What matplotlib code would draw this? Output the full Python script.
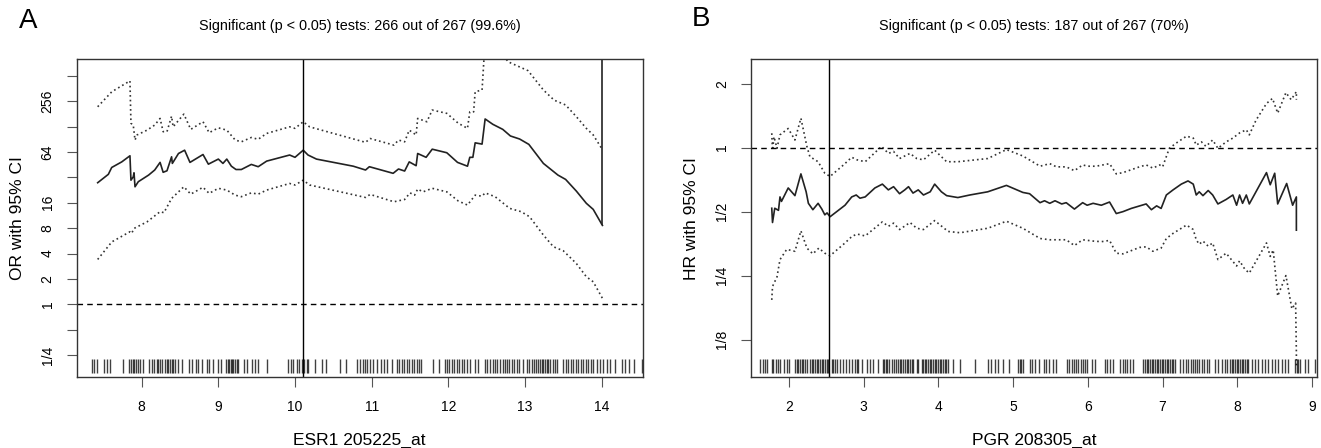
import numpy as np
import matplotlib
matplotlib.use("Agg")
import matplotlib.pyplot as plt

plt.rcParams['font.family'] = ['Liberation Sans', 'DejaVu Sans']

# ---- panel A: ESR1 205225_at, OR (log2 values) ----
xa_or = [7.426, 7.565, 7.609, 7.74, 7.847, 7.86, 7.89, 7.9, 7.913, 7.956, 8.09, 8.17, 8.24, 8.28, 8.33,
         8.39, 8.40, 8.48, 8.56, 8.63, 8.80, 8.87, 9.0, 9.06, 9.11, 9.17, 9.23, 9.30, 9.43, 9.52, 9.63,
         9.93, 10.0, 10.107, 10.17, 10.28, 10.76, 10.92, 10.97, 11.28, 11.35, 11.43, 11.49, 11.58, 11.60,
         11.71, 11.79, 11.98, 12.12, 12.25, 12.28, 12.32, 12.35, 12.44, 12.48, 12.58, 12.71, 12.81, 12.93,
         13.05, 13.24, 13.43, 13.53, 13.67, 13.80, 13.89, 14.01]
la_or = [4.79, 5.12, 5.39, 5.61, 5.85, 4.89, 5.02, 5.18, 4.63, 4.83, 5.09, 5.29, 5.59, 5.2, 5.26,
         5.81, 5.55, 5.94, 6.07, 5.59, 5.9, 5.52, 5.72, 5.55, 5.72, 5.44, 5.31, 5.31, 5.51, 5.42, 5.64,
         5.88, 5.79, 6.07, 5.88, 5.72, 5.44, 5.29, 5.42, 5.16, 5.33, 5.25, 5.61, 5.46, 5.94,
         5.79, 6.11, 5.97, 5.59, 5.44, 5.79, 5.79, 6.36, 6.31, 7.30, 7.09, 6.89, 6.63, 6.51,
         6.30, 5.55, 5.09, 4.92, 4.46, 3.98, 3.74, 3.11]

xa_up = [7.426, 7.61, 7.847, 7.86, 7.89, 7.913, 7.94, 8.07, 8.17, 8.24, 8.28, 8.33, 8.39, 8.41, 8.55,
         8.64, 8.80, 8.88, 9.0, 9.11, 9.22, 9.30, 9.43, 9.52, 9.63, 9.93, 10.0, 10.107, 10.19, 10.92,
         10.98, 11.29, 11.35, 11.43, 11.49, 11.58, 11.60, 11.72, 11.79, 11.98, 12.13, 12.25, 12.28, 12.33,
         12.35, 12.44, 12.48, 12.62, 12.78, 13.04, 13.24, 13.38, 13.53, 13.67, 13.80, 13.89, 14.0]
la_up = [7.78, 8.37, 8.80, 7.13, 7.06, 6.47, 6.67, 6.86, 7.06, 7.32, 6.80, 6.80, 7.41, 6.99, 7.49,
         6.89, 7.19, 6.76, 6.95, 6.86, 6.47, 6.40, 6.57, 6.50, 6.73, 6.99, 6.93, 7.19, 6.99, 6.38,
         6.53, 6.27, 6.47, 6.40, 6.86, 6.67, 7.32, 7.19, 7.65, 7.52, 7.13, 6.93, 7.58, 7.58,
         8.37, 8.44, 10.4, 10.2, 9.55, 9.2, 8.44, 8.04, 7.85, 7.39, 6.93, 6.67, 6.14]

xa_lo = [7.426, 7.61, 7.847, 7.87, 7.90, 8.07, 8.24, 8.29, 8.39, 8.55, 8.64, 8.80, 8.88, 9.0, 9.11,
         9.22, 9.30, 9.43, 9.52, 9.63, 9.93, 10.0, 10.107, 10.19, 10.92, 10.98, 11.29, 11.43, 11.50,
         11.56, 11.60, 11.67, 11.79, 11.98, 12.13, 12.25, 12.35, 12.44, 12.48, 12.61, 12.80, 12.95,
         13.06, 13.24, 13.37, 13.50, 13.67, 13.80, 13.89, 14.01]
la_lo = [1.77, 2.46, 2.86, 2.80, 2.99, 3.25, 3.65, 3.61, 4.17, 4.63, 4.34, 4.61, 4.37, 4.57, 4.50,
         4.30, 4.24, 4.39, 4.34, 4.50, 4.76, 4.70, 4.89, 4.70, 4.21, 4.33, 4.04, 4.13, 4.39,
         4.30, 4.54, 4.43, 4.57, 4.43, 4.07, 3.91, 4.30, 4.26, 4.39, 4.24, 3.78, 3.65,
         3.45, 2.73, 2.27, 2.11, 1.61, 1.09, 0.89, 0.24]

rug_a = [7.357, 7.383, 7.413, 7.513, 7.543, 7.587, 7.761, 7.835, 7.861, 7.883, 7.9, 7.926, 7.948, 7.978,
         8.022, 8.1, 8.13, 8.165, 8.196, 8.217, 8.239, 8.261, 8.304, 8.326, 8.348, 8.37, 8.391, 8.413,
         8.435, 8.478, 8.522, 8.622, 8.652, 8.709, 8.739, 8.783, 8.848, 8.883, 8.935, 9.0, 9.035, 9.1,
         9.122, 9.143, 9.161, 9.178, 9.196, 9.217, 9.239, 9.261, 9.339, 9.378, 9.435, 9.478, 9.522, 9.63,
         9.913, 9.948, 9.978, 10.022, 10.057, 10.087, 10.122, 10.152, 10.174, 10.26, 10.348, 10.4, 10.587,
         10.665, 10.804, 10.848, 10.883, 10.913, 10.943, 10.978, 11.022, 11.074, 11.117, 11.161, 11.204,
         11.261, 11.326, 11.361, 11.391, 11.422, 11.457, 11.491, 11.522, 11.552, 11.587, 11.622, 11.643,
         11.796, 11.883, 11.957, 11.987, 12.013, 12.043, 12.078, 12.109, 12.139, 12.174, 12.204, 12.239,
         12.283, 12.348, 12.391, 12.478, 12.509, 12.543, 12.578, 12.609, 12.639, 12.674, 12.709, 12.739,
         12.761, 12.796, 12.826, 12.857, 12.891, 12.926, 12.978, 13.022, 13.057, 13.087, 13.117, 13.143,
         13.174, 13.196, 13.217, 13.239, 13.261, 13.283, 13.304, 13.326, 13.361, 13.391, 13.413, 13.5,
         13.535, 13.565, 13.596, 13.63, 13.665, 13.696, 13.726, 13.761, 13.796, 13.826, 13.857, 13.891,
         13.935, 13.978, 14.022, 14.065, 14.109, 14.174, 14.261, 14.304, 14.361, 14.422, 14.522]
cut_a = 10.104
inf_a = 14.01  # last OR point goes to Inf

# ---- panel B: PGR 208305_at, HR (log2 values) ----
xb_hr = [1.77, 1.78, 1.81, 1.86, 1.88, 1.90, 1.99, 2.08, 2.16, 2.23, 2.26, 2.32, 2.39, 2.44, 2.48, 2.51,
         2.55, 2.75, 2.84, 2.90, 2.95, 3.02, 3.15, 3.25, 3.33, 3.40, 3.48, 3.55, 3.60, 3.66, 3.73, 3.80,
         3.89, 3.95, 4.04, 4.11, 4.26, 4.42, 4.66, 4.91, 5.13, 5.22, 5.36, 5.42, 5.49, 5.56, 5.65, 5.71,
         5.82, 5.93, 5.99, 6.07, 6.18, 6.29, 6.38, 6.47, 6.58, 6.78, 6.85, 6.92, 6.98, 7.05, 7.14, 7.25,
         7.34, 7.41, 7.45, 7.49, 7.54, 7.61, 7.67, 7.74, 7.85, 7.94, 7.99, 8.03, 8.07, 8.12, 8.16, 8.39,
         8.44, 8.50, 8.54, 8.66, 8.74, 8.79, 8.79]
lb_hr = [-0.947, -1.17, -0.947, -0.98, -0.77, -0.84, -0.63, -0.75, -0.41, -0.69, -0.87, -0.97, -0.87,
         -0.96, -1.05, -1.02, -1.08, -0.90, -0.77, -0.74, -0.79, -0.77, -0.63, -0.57, -0.66, -0.61, -0.72,
         -0.66, -0.61, -0.71, -0.66, -0.74, -0.69, -0.57, -0.69, -0.75, -0.78, -0.74, -0.69, -0.59, -0.70,
         -0.72, -0.86, -0.83, -0.87, -0.83, -0.88, -0.86, -0.96, -0.86, -0.90, -0.87, -0.90, -0.85, -1.03,
         -1.00, -0.95, -0.88, -0.97, -0.91, -0.95, -0.74, -0.66, -0.57, -0.52, -0.57, -0.74, -0.69, -0.75,
         -0.67, -0.74, -0.88, -0.81, -0.74, -0.90, -0.74, -0.87, -0.74, -0.88, -0.39, -0.58, -0.40, -0.88,
         -0.56, -0.90, -0.77, -1.29]

xb_up = [1.77, 1.78, 1.80, 1.84, 1.88, 1.99, 2.08, 2.16, 2.24, 2.28, 2.39, 2.48, 2.55, 2.73, 2.84, 2.91,
         3.02, 3.24, 3.33, 3.40, 3.48, 3.62, 3.71, 3.80, 3.95, 4.11, 4.26, 4.66, 4.91, 5.13, 5.36, 5.49,
         5.58, 5.71, 5.82, 5.93, 6.0, 6.11, 6.29, 6.38, 6.47, 6.69, 6.78, 6.87, 6.96, 7.0, 7.09, 7.18,
         7.32, 7.41, 7.45, 7.52, 7.58, 7.67, 7.74, 7.85, 7.94, 8.03, 8.12, 8.16, 8.25, 8.39, 8.47, 8.54,
         8.65, 8.72, 8.79, 8.79]
lb_up = [0.225, -0.04, 0.17, -0.01, 0.20, 0.30, 0.12, 0.46, 0.02, -0.14, -0.22, -0.40, -0.45, -0.27,
         -0.15, -0.19, -0.22, 0.02, -0.09, -0.06, -0.17, -0.09, -0.17, -0.19, -0.04, -0.22, -0.22, -0.17,
         -0.03, -0.13, -0.29, -0.25, -0.30, -0.30, -0.36, -0.27, -0.29, -0.29, -0.25, -0.41, -0.39, -0.30,
         -0.27, -0.32, -0.27, -0.30, -0.01, 0.07, 0.18, 0.15, 0.04, 0.09, 0.02, 0.12, -0.01, 0.09, 0.15,
         0.23, 0.28, 0.20, 0.43, 0.69, 0.77, 0.54, 0.86, 0.75, 0.875, 0.75]

xb_lo = [1.77, 1.78, 1.84, 1.88, 1.97, 2.08, 2.16, 2.24, 2.32, 2.40, 2.48, 2.55, 2.75, 2.84, 2.91, 3.02,
         3.25, 3.33, 3.40, 3.48, 3.62, 3.71, 3.80, 3.95, 4.13, 4.29, 4.66, 4.91, 5.13, 5.36, 5.49, 5.58,
         5.71, 5.82, 5.93, 6.07, 6.18, 6.29, 6.38, 6.47, 6.69, 6.78, 6.87, 6.98, 7.05, 7.14, 7.32, 7.41,
         7.45, 7.49, 7.54, 7.61, 7.67, 7.74, 7.85, 7.92, 7.99, 8.03, 8.10, 8.16, 8.39, 8.44, 8.48, 8.54,
         8.65, 8.73, 8.78, 8.79, 8.79]
lb_lo = [-2.38, -2.17, -2.02, -1.75, -1.59, -1.62, -1.30, -1.57, -1.66, -1.57, -1.65, -1.69, -1.49,
         -1.39, -1.35, -1.38, -1.16, -1.23, -1.18, -1.28, -1.17, -1.26, -1.28, -1.14, -1.31, -1.33, -1.26,
         -1.15, -1.26, -1.42, -1.44, -1.44, -1.44, -1.53, -1.44, -1.46, -1.47, -1.45, -1.65, -1.66, -1.56,
         -1.55, -1.62, -1.57, -1.42, -1.34, -1.21, -1.28, -1.44, -1.51, -1.46, -1.54, -1.49, -1.75, -1.65,
         -1.75, -1.85, -1.77, -1.90, -1.96, -1.49, -1.70, -1.60, -2.32, -2.00, -2.52, -2.43, -3.21, -3.45]

rug_b = [1.612, 1.648, 1.679, 1.71, 1.768, 1.791, 1.826, 1.857, 1.88, 1.938, 1.969, 2.004, 2.08, 2.102,
         2.125, 2.147, 2.169, 2.192, 2.214, 2.236, 2.281, 2.303, 2.325, 2.348, 2.37, 2.392, 2.414, 2.437,
         2.459, 2.481, 2.504, 2.526, 2.57, 2.593, 2.615, 2.646, 2.682, 2.717, 2.762, 2.807, 2.838, 2.882,
         2.905, 2.927, 2.971, 3.038, 3.083, 3.127, 3.194, 3.252, 3.27, 3.292, 3.315, 3.341, 3.373, 3.404,
         3.43, 3.462, 3.484, 3.506, 3.529, 3.551, 3.573, 3.595, 3.618, 3.64, 3.662, 3.707, 3.729, 3.774,
         3.796, 3.818, 3.84, 3.863, 3.885, 3.907, 3.93, 3.952, 3.974, 3.996, 4.019, 4.041, 4.063, 4.086,
         4.108, 4.13, 4.197, 4.286, 4.487, 4.665, 4.709, 4.754, 4.799, 4.865, 4.946, 5.066, 5.088, 5.111,
         5.133, 5.222, 5.258, 5.293, 5.348, 5.411, 5.446, 5.482, 5.527, 5.571, 5.714, 5.75, 5.781, 5.813,
         5.839, 5.871, 5.902, 5.938, 5.96, 5.982, 6.049, 6.094, 6.228, 6.259, 6.295, 6.33, 6.429, 6.464,
         6.496, 6.527, 6.563, 6.598, 6.741, 6.763, 6.786, 6.808, 6.83, 6.853, 6.875, 6.897, 6.92, 6.942,
         6.964, 6.987, 7.009, 7.031, 7.054, 7.076, 7.098, 7.121, 7.143, 7.165, 7.232, 7.268, 7.313, 7.344,
         7.375, 7.411, 7.433, 7.455, 7.491, 7.522, 7.554, 7.589, 7.625, 7.701, 7.746, 7.79, 7.835, 7.866,
         7.902, 7.924, 7.946, 7.969, 7.991, 8.013, 8.036, 8.058, 8.08, 8.103, 8.125, 8.147, 8.192, 8.237,
         8.281, 8.326, 8.371, 8.415, 8.46, 8.504, 8.549, 8.594, 8.638, 8.683, 8.772, 8.795, 8.817, 8.839,
         8.906, 8.951, 9.04]
cut_b = 2.54

title_a = "Significant (p < 0.05) tests: 266 out of 267 (99.6%)"
title_b = "Significant (p < 0.05) tests: 187 out of 267 (70%)"

fig = plt.figure(figsize=(13.21, 4.48), dpi=100)
axA = fig.add_axes([0.0581, 0.1578, 0.4284, 0.7105])
axB = fig.add_axes([0.5685, 0.1578, 0.4287, 0.7105])

solid = dict(color='#222222', lw=1.2)
dotted = dict(color='#333333', lw=1.2, linestyle=(0, (1, 1.8)))


def panel(ax, xs, ests, ups, los, rug, cut, ylim, yt, ytl, xt, xlim, title, ylabel, xlabel):
    ax.set_yscale('log', base=2)
    ax.plot(xs[0], np.exp2(ests), **solid)
    ax.plot(xs[1], np.exp2(ups), **dotted)
    ax.plot(xs[2], np.exp2(los), **dotted)
    ax.axhline(1, color='black', lw=1, linestyle=(0, (4, 3)))
    ax.axvline(cut, color='black', lw=1)
    ax.vlines(rug, 0.0145, 0.0566, transform=ax.get_xaxis_transform(),
              color='black', lw=1.0, alpha=0.75)
    ax.set_xlim(*xlim)
    ax.set_ylim(2.0 ** ylim[0], 2.0 ** ylim[1])
    ax.set_yticks(yt)
    ax.set_yticklabels(ytl, rotation=90, va='center')
    ax.yaxis.set_minor_locator(matplotlib.ticker.NullLocator())
    ax.set_xticks(xt)
    ax.set_xticklabels([str(v) for v in xt])
    ax.tick_params(direction='out', length=7, width=0.8, color='#555555', labelsize=10, pad=9)
    for s in ax.spines.values():
        s.set_linewidth(1.0)
        s.set_color('#333333')
    ax.set_title(title, fontsize=10.4, pad=21)
    ax.set_ylabel(ylabel, fontsize=12.5, labelpad=11)
    ax.set_xlabel(xlabel, fontsize=12.5, labelpad=14)


panel(axA, (xa_or, xa_up, xa_lo), la_or, la_up, la_lo, rug_a, cut_a, (-2.87, 9.66),
      [0.25, 0.5, 1, 2, 4, 8, 16, 32, 64, 128, 256, 512],
      ['1/4', '', '1', '2', '4', '8', '16', '', '64', '', '256', ''],
      [8, 9, 10, 11, 12, 13, 14], (7.153, 14.535), title_a, 'OR with 95% CI', 'ESR1 205225_at')
axA.vlines(inf_a, np.exp2(la_or[-1]), 2.0 ** 12, **solid)

panel(axB, (xb_hr, xb_up, xb_lo), lb_hr, lb_up, lb_lo, rug_b, cut_b, (-3.59, 1.386),
      [0.125, 0.25, 0.5, 1, 2], ['1/8', '1/4', '1/2', '1', '2'],
      [2, 3, 4, 5, 6, 7, 8, 9], (1.492, 9.07), title_b, 'HR with 95% CI', 'PGR 208305_at')

fig.text(0.0212, 0.954, 'A', fontsize=20, ha='center', va='center')
fig.text(0.5310, 0.958, 'B', fontsize=20, ha='center', va='center')

fig.savefig('out.png', dpi=100)
